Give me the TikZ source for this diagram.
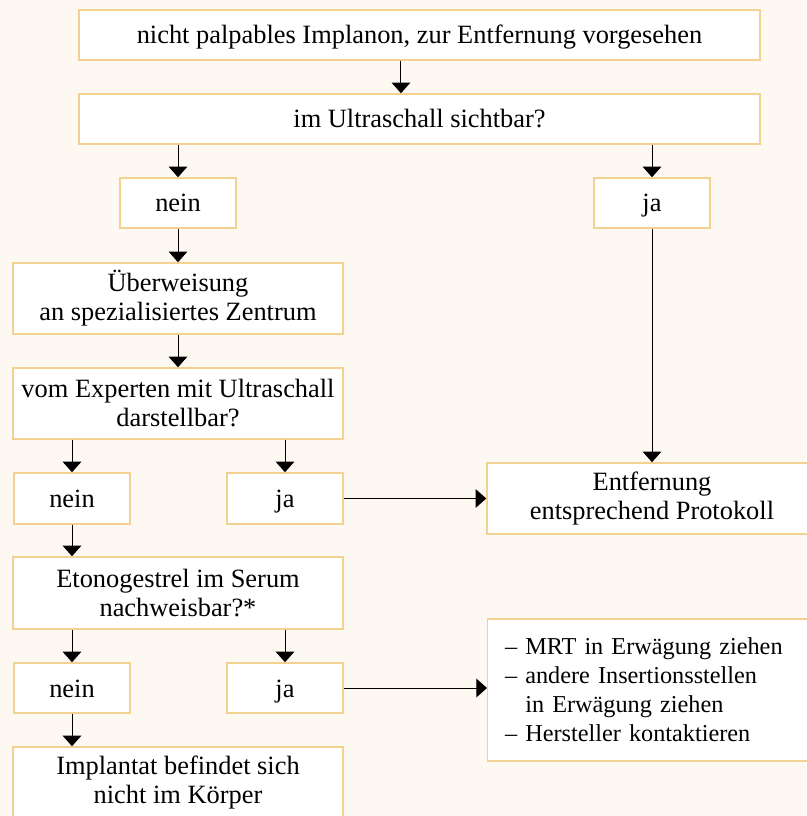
\documentclass[tikz,border=0pt]{standalone}
\usepackage{fontspec}
\setmainfont{Liberation Serif}
\usetikzlibrary{arrows.meta}
\definecolor{bgcream}{RGB}{253,248,241}
\definecolor{boxline}{RGB}{243,210,145}
\begin{document}
\begin{tikzpicture}
[x=0.75pt,y=-0.75pt,
box/.style={draw=boxline,line width=1.1pt,fill=white,align=center,inner sep=0pt,
  font=\fontsize{19.8}{21.75}\selectfont,minimum height=37.5pt},
widebox/.style={box,minimum width=510.75pt,text height=16pt,text depth=2.5pt},
smallbox/.style={box,minimum width=87pt,text height=16pt,text depth=2.5pt},
midbox/.style={box,minimum width=247.5pt,minimum height=53.25pt},
arrow/.style={line width=0.75pt,-{Triangle[width=14pt,length=8pt]}}]
\useasboundingbox[fill=bgcream] (0,0) rectangle (806,816);
\node[widebox] (start) at (419.5,35) {nicht palpables Implanon, zur Entfernung vorgesehen};
\node[widebox] (usound) at (419.5,119) {im Ultraschall sichtbar?};
\node[smallbox] (nein1) at (178,203) {nein};
\node[smallbox] (ja1) at (652,203) {ja};
\node[midbox] (refer) at (178,298.5) {Überweisung\\an spezialisiertes Zentrum};
\node[midbox] (expert) at (178,403.5) {vom Experten mit Ultraschall\\darstellbar?};
\node[smallbox,minimum height=38.25pt] (nein2) at (72,498.5) {nein};
\node[smallbox,minimum height=38.25pt] (ja2) at (285,498.5) {ja};
\node[midbox] (remove) at (652,498.5) {Entfernung\\entsprechend Protokoll};
\node[midbox,minimum height=54pt] (serum) at (178,593) {Etonogestrel im Serum\\nachweisbar?*};
\node[smallbox] (nein3) at (72,688) {nein};
\node[smallbox] (ja3) at (285,688) {ja};
\node[box,anchor=west,align=left,text width=260pt,inner xsep=13pt,minimum height=106.5pt,
  font=\fontsize{18.2}{21.75}\selectfont] (mrt) at (487,690)
  {– MRT in Erwägung ziehen\\– andere Insertionsstellen\\\hphantom{– }in Erwägung ziehen\\– Hersteller kontaktieren};
\node[midbox] (absent) at (178,782.5) {Implantat befindet sich\\nicht im Körper};
% connectors
\draw[arrow] ([xshift=-13.9pt]start.south) -- ([xshift=-13.9pt]usound.north);
\draw[arrow] (usound.south -| nein1.north) -- (nein1.north);
\draw[arrow] (usound.south -| ja1.north) -- (ja1.north);
\draw[arrow] (ja1.south) -- (remove.north);
\draw[arrow] (nein1.south) -- (refer.north);
\draw[arrow] (refer.south) -- (expert.north);
\draw[arrow] (expert.south -| nein2.north) -- (nein2.north);
\draw[arrow] (expert.south -| ja2.north) -- (ja2.north);
\draw[arrow] (ja2.east) -- (ja2.east -| remove.west);
\draw[arrow] (nein2.south) -- (nein2.south |- serum.north);
\draw[arrow] (serum.south -| nein3.north) -- (nein3.north);
\draw[arrow] (serum.south -| ja3.north) -- (ja3.north);
\draw[arrow] (ja3.east) -- (ja3.east -| mrt.west);
\draw[arrow] (nein3.south) -- (nein3.south |- absent.north);
\end{tikzpicture}
\end{document}
